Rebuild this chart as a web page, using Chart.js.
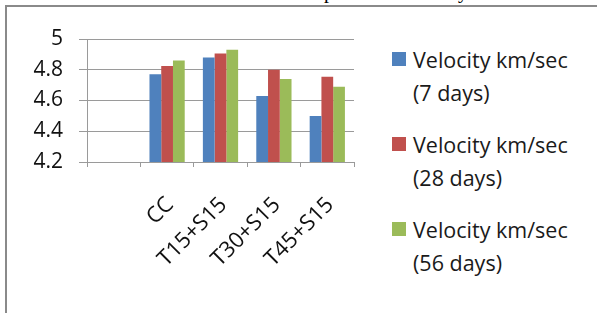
<!DOCTYPE html>
<html>
<head>
<meta charset="utf-8">
<script src="https://cdn.jsdelivr.net/npm/chart.js@4"></script>
<style>
  body { margin: 0; background: #fff; width: 597px; height: 313px; overflow: hidden; position: relative; font-family: "Open Sans", Lato, sans-serif; }
  #frame { position: absolute; left: 5px; top: 5px; width: 600px; height: 320px; border-top: 2px solid #8a8a8a; border-left: 2px solid #8a8a8a; }
  #chartBox { position: absolute; left: 0; top: 0; width: 360px; height: 313px; }
  #legend { position: absolute; left: 392px; top: 0; }
  .item { position: absolute; left: 0; white-space: nowrap; }
  .sw { position: absolute; left: 0; width: 14px; height: 14px; }
  .txt { position: absolute; left: 21px; font-size: 21.5px; line-height: 33px; color: #1a1a1a; }
  .cut { position: absolute; font-family: "Liberation Serif", serif; font-size: 20px; color: #000; }
</style>
</head>
<body>
<span class="cut" style="left:324px; top:-20px;">p</span>
<span class="cut" style="left:458px; top:-20px;">y</span>
<div id="frame"></div>
<div id="chartBox"><canvas id="graphCanvas"></canvas></div>
<div id="legend"></div>
<script>
const categories = ["", "CC", "T15+S15", "T30+S15", "T45+S15"];
const seriesNames = [
    ["Velocity km/sec", "(7 days)"],
    ["Velocity km/sec", "(28 days)"],
    ["Velocity km/sec", "(56 days)"]
];
const days7 = [null, 4.77, 4.88, 4.63, 4.50];
const days28 = [null, 4.825, 4.905, 4.80, 4.755];
const days56 = [null, 4.86, 4.93, 4.74, 4.69];
const colors = ["#4F81BD", "#C0504D", "#9BBB59"];
const yTicks = [4.2, 4.4, 4.6, 4.8, 5];

const allSeries = [days7, days28, days56];
const gridGray = "#9a9a9a";
const font = { family: "'Open Sans', Lato, sans-serif", size: 21 };

// legend as html, one block per series
const legend = document.getElementById("legend");
const legendTops = [43, 128, 213];
seriesNames.forEach((lines, i) => {
    const item = document.createElement("div");
    item.className = "item";
    item.style.top = legendTops[i] + "px";
    item.innerHTML = '<div class="sw" style="top:9px;background:' + colors[i] + '"></div>' +
        '<div class="txt">' + lines.join("<br>") + '</div>';
    legend.appendChild(item);
});

const ctx = document.getElementById("graphCanvas");
const chart = new Chart(ctx, {
    type: "bar",
    data: {
        labels: categories,
        datasets: allSeries.map((vals, i) => ({
            label: seriesNames[i].join(" "),
            data: vals,
            backgroundColor: colors[i],
            borderWidth: 0,
            categoryPercentage: 0.66,
            barPercentage: 1
        }))
    },
    options: {
        responsive: true,
        maintainAspectRatio: false,
        animation: false,
        layout: { padding: { left: 0, right: 6, top: 39, bottom: 0 } },
        plugins: { legend: { display: false }, tooltip: { enabled: false } },
        scales: {
            x: {
                grid: { display: true, drawOnChartArea: false, drawTicks: true, tickLength: 5, color: gridGray },
                border: { display: true, color: gridGray },
                ticks: { color: "#111", font: { family: font.family, size: 22 }, minRotation: 45, maxRotation: 45, padding: 25, labelOffset: 3, autoSkip: false },
                afterFit: (scale) => {
                    scale.height = 151;
                    scale.paddingLeft = 0;
                    scale.paddingRight = 0;
                }
            },
            y: {
                min: 4.2,
                max: 5,
                afterBuildTicks: (scale) => { scale.ticks = yTicks.map(v => ({ value: v })); },
                grid: { color: gridGray, tickLength: 8, drawTicks: true },
                border: { display: true, color: gridGray },
                ticks: { color: "#111", font: font, padding: 16, callback: (v) => String(Math.round(v * 10) / 10) },
                afterFit: (scale) => { scale.width = 87; }
            }
        }
    }
});
</script>
</body>
</html>
